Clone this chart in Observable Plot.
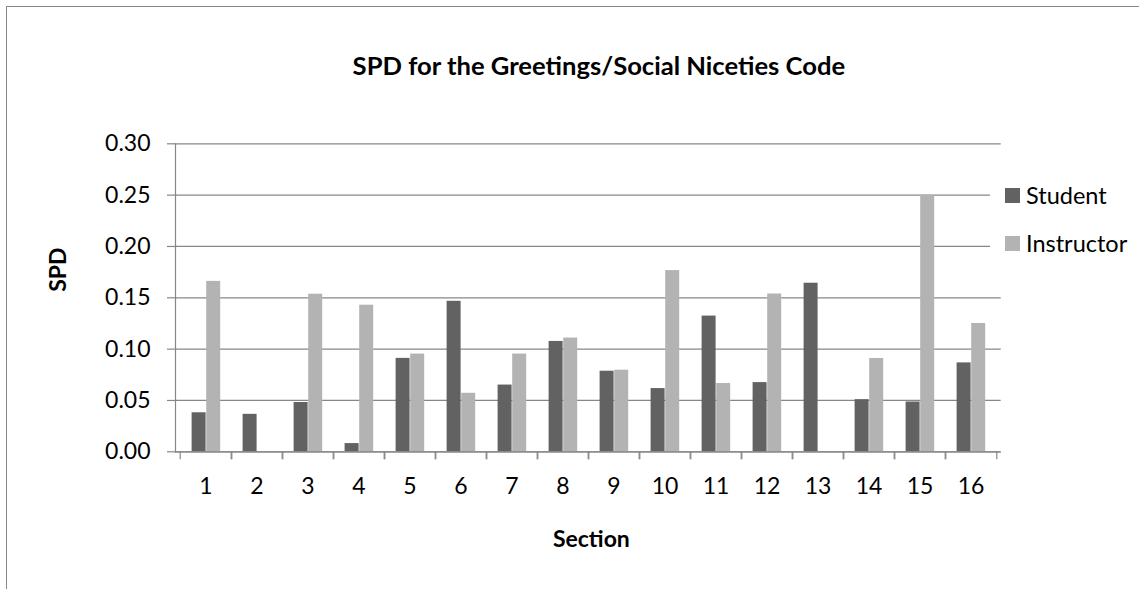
<!DOCTYPE html>
<html>
<head>
<meta charset="utf-8">
<script src="https://cdn.jsdelivr.net/npm/d3@7"></script>
<script src="https://cdn.jsdelivr.net/npm/@observablehq/plot@0.6"></script>
<style>
  html, body { margin: 0; padding: 0; background: #fff; overflow: hidden; }
  #wrap { position: relative; width: 1139px; height: 589px; overflow: hidden; font-family: Lato, sans-serif; background: #fff; }
  #border { position: absolute; left: 6px; top: 6px; width: 1200px; height: 1200px; border-left: 1.5px solid #878787; border-top: 1.5px solid #878787; box-sizing: border-box; }
  #chart { position: absolute; left: 0; top: 0; }
  #legend { position: absolute; left: 990px; top: 171px; width: 140px; background: #fff; }
  #legend .item { height: 48px; display: flex; align-items: center; padding-left: 15px; font-size: 23.5px; color: #000; }
  #legend .sw { width: 15px; height: 15px; margin-right: 6px; flex: none; }
</style>
</head>
<body>
<div id="wrap">
  <div id="border"></div>
  <div id="chart"></div>
  <div id="legend"></div>
</div>
<script>
const titleText = "SPD for the Greetings/Social Niceties Code";
const xLabel = "Section";
const yLabel = "SPD";
const sections = ["1","2","3","4","5","6","7","8","9","10","11","12","13","14","15","16"];
const seriesNames = ["Student", "Instructor"];
const seriesColors = ["#626262", "#b3b3b3"];
const student    = [0.038, 0.0365, 0.048, 0.008, 0.091, 0.1466, 0.065, 0.1075, 0.0785, 0.0616, 0.1322, 0.0674, 0.1642, 0.0508, 0.0485, 0.0866];
const instructor = [0.166, 0, 0.1535, 0.1428, 0.0952, 0.057, 0.0952, 0.1108, 0.0795, 0.1765, 0.0665, 0.1537, 0, 0.0909, 0.25, 0.125];
const yTicks = [0, 0.05, 0.10, 0.15, 0.20, 0.25, 0.30];

const rows = [];
sections.forEach((s, i) => {
  rows.push({section: s, series: "Student", value: student[i]});
  rows.push({section: s, series: "Instructor", value: instructor[i]});
});

const W = 1139, H = 589;
const mL = 175, mR = 138.3, mT = 143.3, mB = 137.7;
const band = (W - mL - mR) / sections.length;
const gray = "#878787";

const chart = Plot.plot({
  width: W, height: H,
  marginLeft: mL, marginRight: mR, marginTop: mT, marginBottom: mB,
  style: {fontFamily: "Lato, sans-serif", fontSize: "23px", color: "#000", background: "transparent", overflow: "visible"},
  x: {type: "band", domain: sections, padding: 0},
  y: {domain: [0, 0.30]},
  color: {domain: seriesNames, range: seriesColors},
  marks: [
    Plot.gridY(yTicks, {stroke: gray, strokeOpacity: 1, strokeWidth: 1.2}),
    Plot.barY(rows.filter(d => d.series === "Student"), {x: "section", y1: 0, y2: "value", fill: "series", insetLeft: 11.6, insetRight: band - 26.2}),
    Plot.barY(rows.filter(d => d.series === "Instructor"), {x: "section", y1: 0, y2: "value", fill: "series", insetLeft: 26.2, insetRight: band - 40.8}),
    Plot.frame({anchor: "left", stroke: gray, strokeWidth: 1.2}),
    Plot.ruleY([0], {stroke: gray, strokeWidth: 1.2}),
    Plot.axisY(yTicks, {tickSize: 8, tickPadding: 17, tickFormat: d3.format(".2f"), stroke: gray, strokeWidth: 1.2, label: null, fill: "#000"}),
    Plot.axisX({tickSize: 0, tickPadding: 25.5, label: null, fill: "#000"}),
    Plot.axisX({tickSize: 8, tickFormat: () => "", label: null, dx: -band / 2, stroke: gray, strokeWidth: 1.2}),
    Plot.axisX({tickSize: 8, tickFormat: () => "", label: null, dx: band / 2, stroke: gray, strokeWidth: 1.2}),
    Plot.text([titleText], {frameAnchor: "top", dy: -69, dx: 10.5, lineAnchor: "bottom", fontSize: 25.6, fontWeight: "bold", fill: "#000"}),
    Plot.text([yLabel], {frameAnchor: "left", rotate: -90, dx: -117, dy: -6, fontSize: 23, fontWeight: "bold", fill: "#000"}),
    Plot.text([xLabel], {frameAnchor: "bottom", dy: 95, dx: 3, lineAnchor: "bottom", fontSize: 23, fontWeight: "bold", fill: "#000"})
  ]
});
document.getElementById("chart").appendChild(chart);

const legend = document.getElementById("legend");
seriesNames.forEach((name, i) => {
  const item = document.createElement("div");
  item.className = "item";
  const sw = document.createElement("span");
  sw.className = "sw";
  sw.style.background = seriesColors[i];
  const label = document.createElement("span");
  label.textContent = name;
  item.appendChild(sw);
  item.appendChild(label);
  legend.appendChild(item);
});
</script>
</body>
</html>
